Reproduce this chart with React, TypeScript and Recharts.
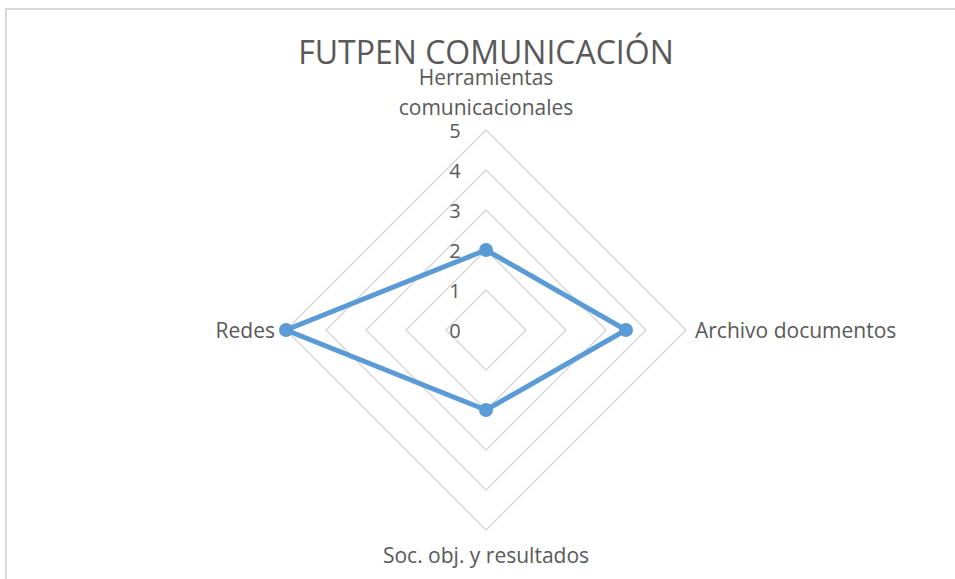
import { RadarChart, Radar, PolarGrid, PolarAngleAxis, PolarRadiusAxis } from 'recharts'

const categories = ['Herramientas comunicacionales', 'Archivo documentos', 'Soc. obj. y resultados', 'Redes']
const values = [2, 3.5, 2, 5]
const radiusTicks = [0, 1, 2, 3, 4, 5]

const data = categories.map((category, i) => ({ category, value: values[i] }))

const textColor = '#595959'
const seriesColor = '#5b9bd5'
const font = '"Open Sans", sans-serif'

function AngleTick(props: any) {
  const { x, y, payload } = props
  const label: string = payload.value
  const rad = (payload.coordinate * Math.PI) / 180
  const c = Math.cos(rad)
  const s = Math.sin(rad)
  // top label wraps onto two lines like the original
  if (s > 0.5) {
    const lines = label.length > 24 ? label.split(' ') : [label]
    return (
      <text x={x} y={y} textAnchor="middle" fill={textColor} fontSize={21} fontFamily={font}>
        {lines.map((l, i) => (
          <tspan key={i} x={x} y={y - 15 - (lines.length - 1 - i) * 30} dominantBaseline="central">{l}</tspan>
        ))}
      </text>
    )
  }
  if (s < -0.5) {
    return (
      <text x={x} y={y + 17} textAnchor="middle" dominantBaseline="central" fill={textColor} fontSize={21} fontFamily={font}>
        {label}
      </text>
    )
  }
  return (
    <text x={c > 0 ? x + 1 : x - 3} y={y} textAnchor={c > 0 ? 'start' : 'end'} dominantBaseline="central" fill={textColor} fontSize={21} fontFamily={font}>
      {label}
    </text>
  )
}

function RadiusTick(props: any) {
  const { x, y, payload } = props
  return (
    <text x={x - 31} y={y} textAnchor="middle" dominantBaseline="central" fill={textColor} fontSize={20} fontFamily={font}>
      {payload.value}
    </text>
  )
}

function Dot(props: any) {
  const { cx, cy } = props
  return <circle key={`dot-${cx}-${cy}`} cx={cx} cy={cy} r={7} fill={seriesColor} />
}

export default function App() {
  return (
    <div style={{ position: 'fixed', left: 5, top: 8, width: 950, height: 571, overflow: 'hidden' }}>
      <div style={{ position: 'relative', width: 960, height: 580, border: '2px solid #d9d9d9', background: '#fff' }}>
        <div style={{ position: 'absolute', left: 0, width: 958, top: 26, textAlign: 'center', fontFamily: font, fontSize: 32, lineHeight: '31px', color: textColor }}>
          FUTPEN COMUNICACIÓN
        </div>
        <RadarChart width={956} height={576} data={data} cx={479} cy={320} outerRadius={200}>
          <PolarGrid gridType="polygon" radialLines={false} stroke="#d9d9d9" strokeWidth={1.5} />
          <PolarAngleAxis dataKey="category" tickLine={false} axisLine={false} tick={<AngleTick />} />
          <PolarRadiusAxis angle={90} domain={[0, 5]} ticks={radiusTicks as any} tickCount={6} axisLine={false} tick={<RadiusTick />} />
          <Radar
            dataKey="value"
            stroke={seriesColor}
            strokeWidth={5}
            fill="none"
            fillOpacity={0}
            dot={Dot}
            isAnimationActive={false}
          />
        </RadarChart>
      </div>
    </div>
  )
}
